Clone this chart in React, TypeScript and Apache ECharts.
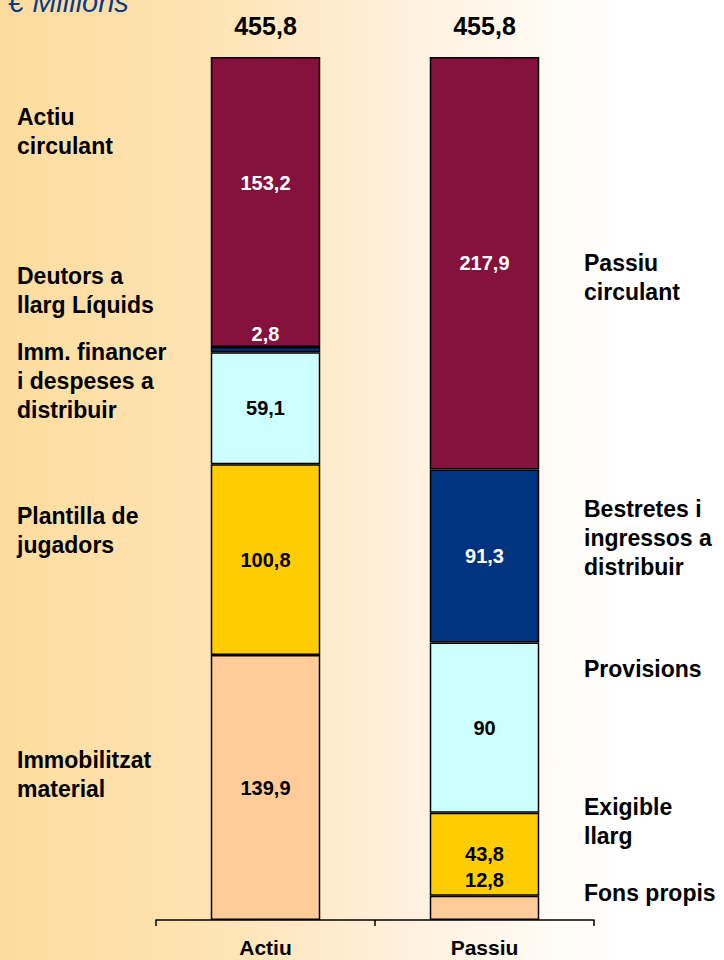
import React, { useEffect, useRef } from "react";
import * as echarts from "echarts";

const categories = ["Actiu", "Passiu"];
// stack layers from bottom to top: [Actiu, Passiu]
const layer1 = [139.9, 12.8];
const layer2 = [100.8, 43.8];
const layer3 = [59.1, 90];
const layer4 = [2.8, 91.3];
const layer5 = [153.2, 217.9];
const totals = [455.8, 455.8];
const layerColors = ["#FFCC99", "#FFCC00", "#CCFFFF", "#003380", "#85123C"];

const leftLabels = [
  { text: "Actiu\ncirculant", y: 131 },
  { text: "Deutors a\nllarg Líquids", y: 290 },
  { text: "Imm. financer\ni despeses a\ndistribuir", y: 381 },
  { text: "Plantilla de\njugadors", y: 530 },
  { text: "Immobilitzat\nmaterial", y: 774 },
];
const rightLabels = [
  { text: "Passiu\ncirculant", y: 277 },
  { text: "Bestretes i\ningressos a\ndistribuir", y: 538 },
  { text: "Provisions", y: 669 },
  { text: "Exigible\nllarg", y: 821 },
  { text: "Fons propis", y: 893 },
];

const fmt = (v: number) => String(v).replace(".", ",");
const FONT = "Liberation Sans, Arial, sans-serif";

export default function App() {
  const ref = useRef<HTMLDivElement>(null);
  useEffect(() => {
    document.body.style.margin = "0";
    const chart = echarts.init(ref.current!, null, { renderer: "svg" });
    const layers = [layer1, layer2, layer3, layer4, layer5];
    const labelStyle = (color: string) => ({
      show: true,
      color,
      fontSize: 20,
      fontWeight: "bold" as const,
      fontFamily: FONT,
    });
    const series: any[] = layers.map((arr, li) => ({
      type: "bar",
      stack: "total",
      barWidth: "50%",
      itemStyle: { color: layerColors[li], borderColor: "#000", borderWidth: 1.5 },
      data: arr.map((v, ci) => {
        const dark = li >= 3;
        const lab: any = { ...labelStyle(dark ? "#fff" : "#000"), formatter: fmt(v), position: "inside" };
        if (li === 3 && ci === 0) {
          lab.position = "top";
          lab.distance = 3;
        }
        if (li === 4 && ci === 0) {
          lab.offset = [0, -19];
        }
        if (li === 0 && ci === 1) {
          lab.position = "top";
          lab.distance = 6;
        }
        return { value: v, label: lab };
      }),
    }));
    series.push({
      type: "bar",
      stack: "total",
      barWidth: "50%",
      itemStyle: { color: "transparent", borderWidth: 0 },
      data: totals.map((t) => ({
        value: 0,
        label: {
          show: true,
          position: "top",
          distance: 19,
          formatter: fmt(t),
          color: "#000",
          fontSize: 25,
          fontWeight: "bold",
          fontFamily: FONT,
        },
      })),
    });

    const textEl = (x: number, y: number, text: string) => ({
      type: "text",
      x,
      y,
      style: {
        text,
        fill: "#000",
        font: `bold 23px ${FONT}`,
        lineHeight: 29,
        textAlign: "left",
        textVerticalAlign: "middle",
      },
    });

    chart.setOption({
      animation: false,
      backgroundColor: {
        type: "linear",
        x: 0,
        y: 0,
        x2: 1,
        y2: 0,
        colorStops: [
          { offset: 0, color: "#FDDC9E" },
          { offset: 0.3, color: "#FEE4B4" },
          { offset: 0.55, color: "#FFF0DC" },
          { offset: 0.85, color: "#FFFFFF" },
          { offset: 1, color: "#FFFFFF" },
        ],
      },
      grid: { left: 156, right: 130, top: 57, bottom: 40 },
      xAxis: {
        type: "category",
        data: categories,
        axisLine: { lineStyle: { color: "#000", width: 1.5 } },
        axisTick: { show: true, length: 6, lineStyle: { color: "#000", width: 1.5 } },
        axisLabel: {
          color: "#000",
          fontSize: 21,
          fontWeight: "bold",
          fontFamily: FONT,
          margin: 17,
        },
      },
      yAxis: { type: "value", min: 0, max: 455.8, show: false, splitLine: { show: false } },
      series,
      graphic: [
        {
          type: "text",
          x: 8,
          y: 2,
          style: {
            text: "€ Millions",
            fill: "#0B3A8A",
            font: `italic 29px ${FONT}`,
            textAlign: "left",
            textVerticalAlign: "middle",
          },
        },
        ...leftLabels.map((l) => textEl(17, l.y, l.text)),
        ...rightLabels.map((l) => textEl(584, l.y, l.text)),
      ],
    });
    return () => chart.dispose();
  }, []);
  return <div ref={ref} style={{ width: 724, height: 960 }} />;
}
